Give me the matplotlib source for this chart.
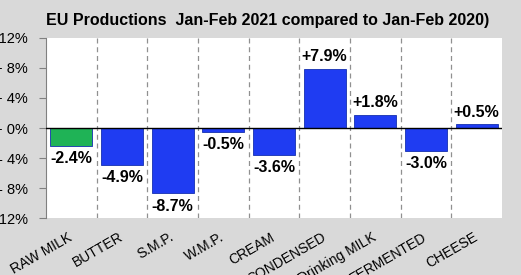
import matplotlib.pyplot as plt

categories = ['RAW MILK', 'BUTTER', 'S.M.P.', 'W.M.P.', 'CREAM', 'CONDENSED',
              'Drinking MILK', 'FERMENTED', 'CHEESE']
values = [-2.4, -4.9, -8.7, -0.5, -3.6, 7.9, 1.8, -3.0, 0.5]
bar_colors = ['#1fb356'] + ['#1f3cf2'] * 8
yticks = [-12, -8, -4, 0, 4, 8, 12]
ytick_labels = ['-12%', '- 8%', '- 4%', '+ 0%', '+ 4%', '+ 8%', '+12%']

plt.rcParams['font.family'] = ['Liberation Sans', 'DejaVu Sans']

fig = plt.figure(figsize=(5.21, 2.75), dpi=100, facecolor='#d9d9d9')
ax = fig.add_axes([0.0883, 0.207, 0.875, 0.655])
ax.set_facecolor('white')

x = list(range(len(categories)))
ax.bar(x, values, width=0.83, color=bar_colors, edgecolor='#1530b0', linewidth=0.6, zorder=3)

for i, v in enumerate(values):
    txt = f'{v:+.1f}%'
    if v >= 0:
        ax.text(i, v + 0.6, txt, ha='center', va='bottom', fontsize=11.5, fontweight='bold')
    else:
        ax.text(i, v - 0.7, txt, ha='center', va='top', fontsize=11.5, fontweight='bold')

for b in range(1, len(categories)):
    ax.axvline(b - 0.5, color='#909090', linestyle=(0, (4, 3)), linewidth=0.9, zorder=1)
ax.axhline(0, color='black', linewidth=1.0, zorder=4)

ax.set_xlim(-0.5, len(categories) - 0.5)
ax.set_ylim(-12, 12)
ax.set_yticks(yticks)
ax.set_yticklabels(ytick_labels, fontsize=10.5)
ax.set_xticks(x)
ax.set_xticklabels(categories, rotation=30, fontsize=10, ha='right', va='center',
                   rotation_mode='anchor')
ax.tick_params(axis='x', length=0, pad=13)
ax.tick_params(axis='y', length=5, color='#808080', pad=8)

for s in ['top', 'right', 'bottom']:
    ax.spines[s].set_visible(False)
ax.spines['left'].set_color('#808080')

fig.text(0.513, 0.927, 'EU Productions  Jan-Feb 2021 compared to Jan-Feb 2020)',
         ha='center', va='center', fontsize=11.5, fontweight='bold')

fig.savefig('out.png', dpi=100, facecolor=fig.get_facecolor())
